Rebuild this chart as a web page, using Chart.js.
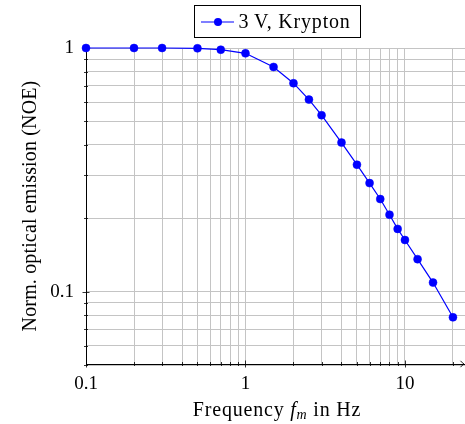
<!DOCTYPE html>
<html>
<head>
<meta charset="utf-8">
<script src="https://cdn.jsdelivr.net/npm/chart.js@4/dist/chart.umd.min.js"></script>
<style>
html,body{margin:0;padding:0;background:#fff;}
#wrap{position:relative;width:465px;height:424px;}
</style>
</head>
<body>
<div id="wrap"><canvas id="c" width="465" height="424"></canvas></div>
<script>
// ---- data ----
const frequencies = [0.1, 0.2, 0.3, 0.5, 0.7, 1, 1.5, 2, 2.5, 3, 4, 5, 6, 7, 8, 9, 10, 12, 15, 20];
const emission = [1, 1, 1, 0.997, 0.984, 0.951, 0.836, 0.717, 0.614, 0.530, 0.409, 0.332, 0.279, 0.240, 0.207, 0.181, 0.163, 0.136, 0.109, 0.0785];
const seriesLabel = '3\u2009V, Krypton';
const xTickValues = [0.1,0.2,0.3,0.4,0.5,0.6,0.7,0.8,0.9,1,2,3,4,5,6,7,8,9,10,20];
const yTickValues = [0.05,0.06,0.07,0.08,0.09,0.1,0.2,0.3,0.4,0.5,0.6,0.7,0.8,0.9,1];
const xLabelValues = [0.1, 1, 10];
const yLabelValues = [0.1, 1];
const xTitleParts = ['Frequency ', 'f', 'm', ' in Hz'];
const yTitle = 'Norm. optical emission (NOE)';

const FONT = "'Liberation Serif', 'DejaVu Serif', serif";
const FS = 19;
const isLabel = (list, v) => list.some(t => Math.abs(t - v) < 1e-9);

const tickMarks = {
  id: 'tickMarks',
  beforeDatasetsDraw(chart) {
    const ctx = chart.ctx, xs = chart.scales.x, ys = chart.scales.y;
    const ca = chart.chartArea;
    ctx.save();
    ctx.strokeStyle = '#000';
    ctx.lineWidth = 0.8;
    xTickValues.forEach(v => {
      const px = Math.round(xs.getPixelForValue(v)) + 0.5;
      const h = isLabel(xLabelValues, v) ? 3.5 : 2;
      ctx.beginPath(); ctx.moveTo(px, ca.bottom - h); ctx.lineTo(px, ca.bottom + h); ctx.stroke();
    });
    yTickValues.forEach(v => {
      const py = Math.round(ys.getPixelForValue(v)) + 0.5;
      const h = isLabel(yLabelValues, v) ? 3.5 : 2;
      ctx.beginPath(); ctx.moveTo(ca.left - h, py); ctx.lineTo(ca.left + h, py); ctx.stroke();
    });
    ctx.restore();
  },
  afterDraw(chart) {
    const ctx = chart.ctx, ca = chart.chartArea;
    ctx.save();
    // arrow at end of x axis
    const tipX = 464, y = ca.bottom;
    ctx.strokeStyle = '#000'; ctx.lineWidth = 0.9;
    ctx.beginPath();
    ctx.moveTo(tipX - 3.5, y - 3.2);
    ctx.quadraticCurveTo(tipX - 1.5, y - 0.8, tipX, y);
    ctx.quadraticCurveTo(tipX - 1.5, y + 0.8, tipX - 3.5, y + 3.2);
    ctx.stroke();

    ctx.fillStyle = '#000';
    ctx.textBaseline = 'alphabetic';
    const fN = '20px ' + FONT, fI = 'italic 20px ' + FONT, fS = 'italic 14px ' + FONT;

    // x title with italic f_m
    ctx.letterSpacing = '0.8px';
    const parts = [[xTitleParts[0], fN, 0],[xTitleParts[1], fI, 0],[xTitleParts[2], fS, 3],[xTitleParts[3], fN, 0]];
    let total = 0;
    parts.forEach(p => { ctx.font = p[1]; total += ctx.measureText(p[0]).width; });
    let x = 277 - total / 2;
    const base = 416;
    parts.forEach(p => { ctx.font = p[1]; ctx.fillText(p[0], x, base + p[2]); x += ctx.measureText(p[0]).width; });

    // y title
    ctx.save();
    ctx.letterSpacing = '0.15px';
    ctx.font = fN;
    ctx.translate(36, (ca.top + ca.bottom) / 2);
    ctx.rotate(-Math.PI / 2);
    ctx.textAlign = 'center';
    ctx.fillText(yTitle, 0, 0);
    ctx.restore();

    // legend
    const lx = 194.5, ly = 5.5, lw = 166, lh = 32;
    ctx.fillStyle = '#fff'; ctx.fillRect(lx, ly, lw, lh);
    ctx.strokeStyle = '#000'; ctx.lineWidth = 1;
    ctx.strokeRect(lx, ly, lw, lh);
    const ds = chart.data.datasets[0];
    ctx.strokeStyle = ds.borderColor; ctx.lineWidth = 1.2;
    ctx.beginPath(); ctx.moveTo(201, 22); ctx.lineTo(234, 22); ctx.stroke();
    ctx.fillStyle = ds.pointBackgroundColor;
    ctx.beginPath(); ctx.arc(218, 22, 4, 0, Math.PI*2); ctx.fill();
    ctx.fillStyle = '#000'; ctx.font = fN;
    ctx.letterSpacing = '0.8px';
    ctx.fillText(ds.label, 238.5, 28);
    ctx.restore();
  }
};

new Chart(document.getElementById('c'), {
  type: 'line',
  data: {
    datasets: [{
      label: seriesLabel,
      data: frequencies.map((f, i) => ({x: f, y: emission[i]})),
      borderColor: '#0000ff',
      backgroundColor: '#0000ff',
      pointBackgroundColor: '#0000ff',
      pointBorderColor: '#0000ff',
      borderWidth: 1.2,
      pointRadius: 4,
      pointBorderWidth: 0.5,
      tension: 0,
      clip: false
    }]
  },
  options: {
    responsive: false,
    animation: false,
    devicePixelRatio: 1,
    layout: {autoPadding: false, padding: {top: 48, right: 0, left: 0, bottom: 0}},
    plugins: {legend: {display: false}, tooltip: {enabled: false}},
    scales: {
      x: {
        type: 'logarithmic',
        min: 0.1, max: 23.8,
        afterBuildTicks: s => { s.ticks = xTickValues.map(v => ({value: v})); },
        afterFit: s => { s.height = 60; s.paddingRight = 0; s.paddingLeft = 0; },
        ticks: {
          autoSkip: false, maxRotation: 0, padding: 9,
          color: '#000', font: {family: FONT, size: FS},
          callback: v => isLabel(xLabelValues, v) ? String(v) : ''
        },
        grid: {color: '#c4c4c4', lineWidth: 1, drawTicks: false},
        border: {display: true, color: '#000', width: 1}
      },
      y: {
        type: 'logarithmic',
        min: 0.0505, max: 1,
        afterBuildTicks: s => { s.ticks = yTickValues.map(v => ({value: v})); },
        afterFit: s => { s.width = 86; s.paddingTop = 0; s.paddingBottom = 0; },
        ticks: {
          autoSkip: false, padding: 12,
          color: '#000', font: {family: FONT, size: FS},
          callback: v => isLabel(yLabelValues, v) ? String(v) : ''
        },
        grid: {color: '#c4c4c4', lineWidth: 1, drawTicks: false},
        border: {display: true, color: '#000', width: 1}
      }
    }
  },
  plugins: [tickMarks]
});
</script>
</body>
</html>
